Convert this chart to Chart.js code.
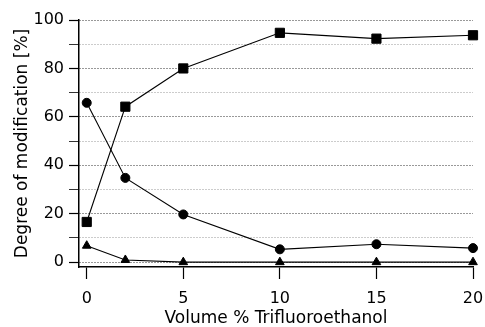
<!DOCTYPE html>
<html>
<head>
<meta charset="utf-8">
<script src="https://cdn.jsdelivr.net/npm/chart.js@4.4.1/dist/chart.umd.min.js"></script>
<style>
    html, body { margin: 0; padding: 0; background: #fff; }
    #wrap { width: 485px; height: 327px; }
</style>
</head>
<body>
<div id="wrap"><canvas id="chart"></canvas></div>
<script>
'use strict';

// volume % trifluoroethanol
var tfe = [0, 2, 5, 10, 15, 20];
// degree of modification [%] per series
var squares = [16.6, 64.2, 80, 94.7, 92.3, 93.7];
var circles = [65.8, 34.8, 19.7, 5.3, 7.4, 5.8];
var triangles = [6.8, 0.9, 0, 0, 0, 0];

var xTicks = [0, 5, 10, 15, 20];
var yTicks = [0, 10, 20, 30, 40, 50, 60, 70, 80, 90, 100];
var yLabels = [0, 20, 40, 60, 80, 100];

function points(ys) {
    return tfe.map(function (x, i) {
        return {x: x, y: ys[i]};
    });
}

function series(label, ys, style, radius) {
    return {
        label: label,
        data: points(ys),
        showLine: true,
        borderColor: '#000',
        backgroundColor: '#000',
        borderWidth: 1.1,
        pointStyle: style,
        pointRadius: radius,
        pointBorderWidth: 1,
        pointBackgroundColor: '#000',
        pointBorderColor: '#000',
        clip: false
    };
}

var tickFont = {family: 'DejaVu Sans', size: 16};
var titleFont = {family: 'DejaVu Sans', size: 17};

var ctx = document.getElementById('chart');
var chart = new Chart(ctx, {
    type: 'scatter',
    data: {
        datasets: [
            series('squares', squares, 'rect', 6.5),
            series('circles', circles, 'circle', 4.5),
            series('triangles', triangles, 'triangle', 5)
        ]
    },
    options: {
        responsive: true,
        maintainAspectRatio: false,
        animation: false,
        layout: {padding: {top: 20, right: 12, left: 0, bottom: 0}},
        plugins: {
            legend: {display: false},
            tooltip: {enabled: false}
        },
        scales: {
            x: {
                type: 'linear',
                min: -0.4,
                max: 20,
                afterBuildTicks: function (scale) {
                    scale.ticks = xTicks.map(function (v) { return {value: v}; });
                },
                afterFit: function (scale) {
                    scale.height = 60;
                    scale.paddingRight = 0;
                },
                border: {display: true, color: '#000', width: 1.5},
                grid: {
                    drawOnChartArea: false,
                    drawTicks: true,
                    tickLength: 12,
                    tickColor: '#000',
                    tickWidth: 1.2
                },
                ticks: {color: '#000', font: tickFont, padding: 10},
                title: {
                    display: true,
                    text: 'Volume % Trifluoroethanol',
                    color: '#000',
                    font: titleFont,
                    padding: {top: 0, bottom: -2}
                }
            },
            y: {
                type: 'linear',
                min: -2,
                max: 100,
                afterBuildTicks: function (scale) {
                    scale.ticks = yTicks.map(function (v) { return {value: v}; });
                },
                afterFit: function (scale) {
                    scale.width = 79;
                },
                border: {display: true, color: '#000', width: 1.5, dash: [1, 2]},
                grid: {
                    drawOnChartArea: true,
                    drawTicks: true,
                    tickLength: 10,
                    tickColor: '#000',
                    tickBorderDash: [],
                    tickWidth: function (c) {
                        return yLabels.indexOf(c.tick.value) >= 0 ? 1.2 : 0.8;
                    },
                    color: function (c) {
                        return yLabels.indexOf(c.tick.value) >= 0 ? '#333' : '#999';
                    },
                    lineWidth: 1
                },
                ticks: {
                    color: '#000',
                    font: tickFont,
                    padding: 5,
                    autoSkip: false,
                    callback: function (v) {
                        return yLabels.indexOf(v) >= 0 ? String(v) : '';
                    }
                },
                title: {
                    display: true,
                    text: 'Degree of modification [%]',
                    color: '#000',
                    font: titleFont,
                    padding: {top: 12, bottom: 0}
                }
            }
        }
    }
});
</script>
</body>
</html>
